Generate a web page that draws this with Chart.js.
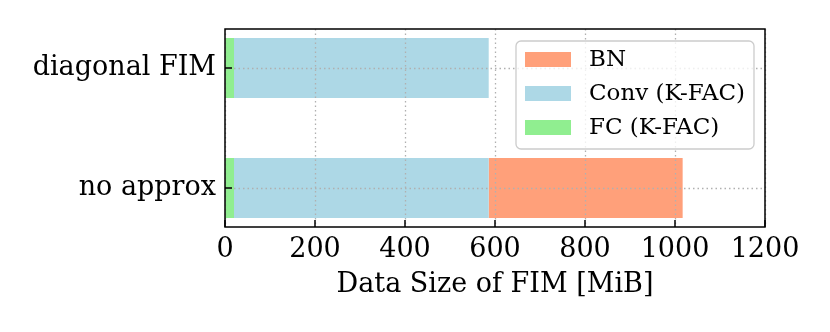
<!DOCTYPE html>
<html>
<head>
<meta charset="utf-8">
<script src="https://cdn.jsdelivr.net/npm/chart.js@4/dist/chart.umd.min.js"></script>
<style>
  html, body { margin: 0; padding: 0; background: #ffffff; }
  #wrap { width: 830px; height: 332px; }
</style>
</head>
<body>
<div id="wrap"><canvas id="c" width="830" height="332"></canvas></div>
<script>
// ---- data ----
const categories = ['no approx', 'diagonal FIM'];
const fcValues   = [20, 20];
const convValues = [566, 566];
const bnValues   = [431, 0];
const xTicks     = [0, 200, 400, 600, 800, 1000, 1200];
const xTitle     = 'Data Size of FIM [MiB]';
const seriesNames = ['FC (K-FAC)', 'Conv (K-FAC)', 'BN'];
const seriesColors = ['#90EE90', '#ADD8E6', '#FFA07A'];

const FONT = "'DejaVu Serif', serif";
const TICK_SIZE = 27;
const LEGEND_SIZE = 23;

function toPoints(arr) { return arr.map((v, i) => ({ x: v, y: i })); }

const datasets = [fcValues, convValues, bnValues].map((vals, k) => ({
  label: seriesNames[k],
  data: toPoints(vals),
  backgroundColor: seriesColors[k],
  borderWidth: 0,
  categoryPercentage: 1.0,
  barPercentage: 0.5
}));

// frame, dotted grid on top of bars, inward ticks
const framePlugin = {
  id: 'frame',
  afterDatasetsDraw(chart) {
    const { ctx, chartArea: a, scales: { x, y } } = chart;
    ctx.save();
    ctx.strokeStyle = '#b0b0b0';
    ctx.lineWidth = 1.3;
    ctx.setLineDash([1.5, 3]);
    xTicks.forEach(t => {
      const px = Math.round(x.getPixelForValue(t)) + 0.5;
      ctx.beginPath(); ctx.moveTo(px, a.top); ctx.lineTo(px, a.bottom); ctx.stroke();
    });
    categories.forEach((c, i) => {
      const py = Math.round(y.getPixelForValue(i)) + 0.5;
      ctx.beginPath(); ctx.moveTo(a.left, py); ctx.lineTo(a.right, py); ctx.stroke();
    });
    ctx.setLineDash([]);
    ctx.strokeStyle = '#000';
    ctx.lineWidth = 1.5;
    xTicks.forEach(t => {
      const px = x.getPixelForValue(t);
      ctx.beginPath(); ctx.moveTo(px, a.bottom); ctx.lineTo(px, a.bottom - 7); ctx.stroke();
    });
    categories.forEach((c, i) => {
      const py = y.getPixelForValue(i);
      ctx.beginPath(); ctx.moveTo(a.left, py); ctx.lineTo(a.left + 7, py); ctx.stroke();
    });
    ctx.strokeRect(a.left, a.top, a.right - a.left, a.bottom - a.top);
    ctx.restore();
  }
};

// legend drawn inside the axes (upper right)
const legendPlugin = {
  id: 'innerLegend',
  afterDraw(chart) {
    const { ctx } = chart;
    const bx = 516, by = 41, bw = 238, bh = 108, r = 5;
    ctx.save();
    ctx.beginPath();
    ctx.moveTo(bx + r, by);
    ctx.arcTo(bx + bw, by, bx + bw, by + bh, r);
    ctx.arcTo(bx + bw, by + bh, bx, by + bh, r);
    ctx.arcTo(bx, by + bh, bx, by, r);
    ctx.arcTo(bx, by, bx + bw, by, r);
    ctx.closePath();
    ctx.fillStyle = 'rgba(255,255,255,0.8)';
    ctx.fill();
    ctx.strokeStyle = '#cccccc';
    ctx.lineWidth = 1.3;
    ctx.stroke();
    const items = chart.data.datasets.slice().reverse();
    ctx.font = LEGEND_SIZE + 'px ' + FONT;
    ctx.textBaseline = 'middle';
    items.forEach((ds, i) => {
      const cy = 59.5 + i * 34;
      ctx.fillStyle = ds.backgroundColor;
      ctx.fillRect(525, cy - 7.5, 46, 15);
      ctx.fillStyle = '#000';
      ctx.fillText(ds.label, 589, cy + 1);
    });
    ctx.restore();
  }
};

new Chart(document.getElementById('c'), {
  type: 'bar',
  data: { datasets },
  options: {
    indexAxis: 'y',
    responsive: false,
    animation: false,
    devicePixelRatio: 1,
    layout: { padding: { top: 29, right: 65, left: 0, bottom: 31 } },
    plugins: { legend: { display: false }, tooltip: { enabled: false } },
    scales: {
      x: {
        type: 'linear',
        stacked: true,
        offset: false,
        min: 0, max: 1200,
        afterBuildTicks(s) { s.ticks = xTicks.map(v => ({ value: v })); },
        afterFit(s) { s.height = 74; },
        grid: { display: false, drawTicks: false },
        border: { display: false },
        ticks: { color: '#000', font: { family: FONT, size: TICK_SIZE }, padding: 7, maxRotation: 0,
                 callback: (v) => String(v) },
        title: { display: true, text: xTitle, color: '#000', font: { family: FONT, size: TICK_SIZE }, padding: { top: 0, bottom: 0 } }
      },
      y: {
        type: 'linear',
        stacked: true,
        offset: false,
        min: -0.325, max: 1.325,
        afterBuildTicks(s) { s.ticks = categories.map((c, i) => ({ value: i })); },
        afterFit(s) { s.width = 225; },
        grid: { display: false, drawTicks: false, offset: false },
        border: { display: false },
        ticks: {
          color: '#000', font: { family: FONT, size: TICK_SIZE }, padding: 9,
          callback: (v) => categories[v]
        }
      }
    }
  },
  plugins: [framePlugin, legendPlugin]
});
</script>
</body>
</html>
